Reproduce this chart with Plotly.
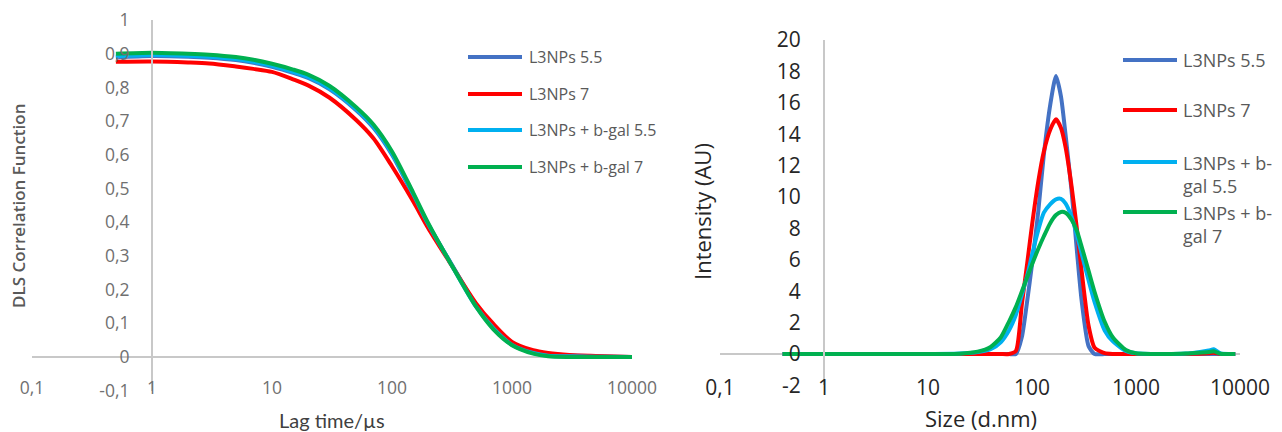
import plotly.graph_objects as go

# ---------------- data ----------------
series_names = ["L3NPs 5.5", "L3NPs 7", "L3NPs + b-gal 5.5", "L3NPs + b-gal 7"]
series_colors = ["#4472C4", "#FF0000", "#00B0F0", "#00B050"]

# Left chart: DLS correlation function vs lag time (µs)
lag_time_us = [0.5, 1, 2, 3, 5, 7, 10, 15, 20, 30, 50, 70, 100, 150, 200, 300,
               500, 700, 1000, 1500, 2000, 3000, 5000, 10000]
corr_l3nps_55 = [0.889, 0.893, 0.891, 0.888, 0.881, 0.873, 0.861, 0.843, 0.828, 0.795,
                 0.733, 0.680, 0.600, 0.480, 0.393, 0.287, 0.155, 0.092, 0.042, 0.018,
                 0.010, 0.005, 0.002, 0.000]
corr_l3nps_7 = [0.876, 0.877, 0.874, 0.871, 0.862, 0.855, 0.846, 0.824, 0.806, 0.770,
                0.704, 0.649, 0.566, 0.462, 0.383, 0.283, 0.160, 0.098, 0.045, 0.020,
                0.012, 0.006, 0.003, 0.000]
corr_bgal_55 = [0.892, 0.896, 0.894, 0.891, 0.884, 0.876, 0.864, 0.846, 0.831, 0.798,
                0.736, 0.684, 0.604, 0.484, 0.395, 0.285, 0.150, 0.085, 0.036, 0.012,
                0.004, 0.002, 0.001, 0.000]
corr_bgal_7 = [0.900, 0.903, 0.900, 0.897, 0.890, 0.882, 0.870, 0.853, 0.838, 0.805,
               0.742, 0.690, 0.610, 0.488, 0.398, 0.285, 0.150, 0.082, 0.035, 0.010,
               0.002, 0.000, 0.000, 0.000]

# Right chart: intensity size distribution vs size (d.nm)
size_nm = [0.4, 1, 10, 20, 30, 40, 50, 60, 70, 80, 90, 100, 115, 130, 150, 170, 190,
           210, 240, 270, 300, 350, 400, 500, 600, 800, 1000, 2000, 3000, 4000, 5000,
           5600, 6500, 8000, 9000]
int_l3nps_55 = [0, 0, 0, 0, 0, 0, 0, 0, 0.0, 1.1, 3.4, 5.7, 9.1, 12.7, 15.9, 17.7, 16.4,
                14.0, 10.4, 6.6, 3.4, 0.5, 0.0, 0, 0, 0, 0, 0, 0, 0, 0,
                0, 0, 0, 0]
int_l3nps_7 = [0, 0, 0, 0, 0, 0, 0, 0, 0.2, 3.2, 5.8, 8.2, 11.0, 12.9, 14.3, 14.95, 14.4,
               13.2, 10.7, 8.0, 5.3, 1.8, 0.4, 0.05, 0, 0, 0, 0, 0, 0.02, 0.05,
               0.08, 0, 0, 0]
int_bgal_55 = [0, 0, 0, 0.03, 0.12, 0.3, 0.75, 1.5, 2.5, 3.8, 5.0, 6.3, 7.9, 9.0, 9.55, 9.85,
               9.88, 9.6, 8.75, 7.6, 6.4, 4.7, 3.3, 1.5, 0.8, 0.2, 0.05, 0.0, 0.03, 0.12,
               0.22, 0.3, 0.03, 0, 0]
int_bgal_7 = [0, 0, 0, 0.02, 0.15, 0.45, 1.05, 2.05, 3.0, 4.0, 4.9, 5.7, 6.7, 7.5, 8.35,
              8.85, 9.05, 9.0, 8.55, 7.85, 6.85, 5.3, 3.95, 2.05, 1.05, 0.25, 0.05, 0.0,
              0.03, 0.08, 0.13, 0.17, 0.02, 0, 0]

# ticks
x_tick_vals = [0.1, 1, 10, 100, 1000, 10000]
x_tick_text = ["0,1", "1", "10", "100", "1000", "10000"]
left_y_tick_vals = [-0.1, 0, 0.1, 0.2, 0.3, 0.4, 0.5, 0.6, 0.7, 0.8, 0.9, 1]
left_y_tick_text = ["-0,1", "0", "0,1", "0,2", "0,3", "0,4", "0,5", "0,6", "0,7",
                    "0,8", "0,9", "1"]
right_y_tick_vals = [-2, 0, 2, 4, 6, 8, 10, 12, 14, 16, 18, 20]
right_y_tick_text = ["-2", "0", "2", "4", "6", "8", "10", "12", "14", "16", "18", "20"]

left_series = [corr_l3nps_55, corr_l3nps_7, corr_bgal_55, corr_bgal_7]
right_series = [int_l3nps_55, int_l3nps_7, int_bgal_55, int_bgal_7]

# ---------------- layout helpers ----------------
W, H = 1282, 432


def fx(px):
    return px / W


def fy(py):
    return 1 - py / H


AXIS_GRAY = "#C8C8C8"
FONT = "Open Sans"

fig = go.Figure()

for name, color, ys in zip(series_names, series_colors, left_series):
    fig.add_trace(go.Scatter(x=lag_time_us, y=ys, name=name, mode="lines",
                             line=dict(color=color, width=4, shape="spline", smoothing=0.8),
                             xaxis="x", yaxis="y", showlegend=False))

for name, color, ys in zip(series_names, series_colors, right_series):
    fig.add_trace(go.Scatter(x=size_nm, y=ys, name=name, mode="lines",
                             line=dict(color=color, width=4, shape="spline", smoothing=0.6),
                             xaxis="x2", yaxis="y2", showlegend=False))

left_tick_font = dict(family=FONT, size=17.5, color="#707070")
right_tick_font = dict(family=FONT, size=21, color="#262626")

fig.update_layout(
    width=W, height=H,
    margin=dict(l=0, r=0, t=0, b=0, pad=0, autoexpand=False),
    paper_bgcolor="white", plot_bgcolor="white",
    xaxis=dict(domain=[fx(32), fx(632)], type="log", range=[-1, 4],
               anchor="free", position=fy(375), showline=False, showgrid=False,
               zeroline=False, ticks="", tickvals=x_tick_vals, ticktext=x_tick_text,
               tickfont=left_tick_font, automargin=False),
    yaxis=dict(domain=[fy(390.7), fy(20)], range=[-0.1, 1], anchor="free",
               position=fx(152), side="left", showline=True, linecolor=AXIS_GRAY,
               linewidth=2, showgrid=False, zeroline=True, zerolinecolor=AXIS_GRAY,
               zerolinewidth=2, ticks="", tickvals=left_y_tick_vals,
               ticktext=left_y_tick_text, tickfont=left_tick_font,
               ticklabelstandoff=18, automargin=False),
    xaxis2=dict(domain=[fx(720), fx(1240)], type="log", range=[-1, 4],
                anchor="free", position=fy(373), showline=False, showgrid=False,
                zeroline=False, ticks="", tickvals=x_tick_vals, ticktext=x_tick_text,
                tickfont=right_tick_font, automargin=False),
    yaxis2=dict(domain=[fy(385.4), fy(40)], range=[-2, 20], anchor="free",
                position=fx(824), side="left", showline=True, linecolor=AXIS_GRAY,
                linewidth=2, showgrid=False, zeroline=True, zerolinecolor=AXIS_GRAY,
                zerolinewidth=2, ticks="", tickvals=right_y_tick_vals,
                ticktext=right_y_tick_text, tickfont=right_tick_font,
                ticklabelstandoff=18, automargin=False),
    showlegend=False,
)

annotations = []
shapes = []


def text_ann(text, px, py, font, angle=0, xanchor="center", align="center"):
    return dict(text=text, x=fx(px), y=fy(py), xref="paper", yref="paper",
                xanchor=xanchor, yanchor="middle", align=align, showarrow=False,
                textangle=angle, font=font)


# axis titles
annotations.append(text_ann("DLS Correlation Function", 18, 206,
                            dict(family=FONT, size=17, color="#595959", weight=600), -90))
annotations.append(text_ann("Lag time/µs", 332, 420,
                            dict(family="Lato", size=20, color="#404040")))
annotations.append(text_ann("Intensity (AU)", 702, 212,
                            dict(family=FONT, size=22, color="#262626"), -90))
annotations.append(text_ann("Size (d.nm)", 981, 418,
                            dict(family=FONT, size=22, color="#262626")))

# legends (drawn as keys + labels)
left_leg_y = [57, 94, 130, 167]
for name, color, py in zip(series_names, series_colors, left_leg_y):
    shapes.append(dict(type="line", xref="paper", yref="paper", x0=fx(468), x1=fx(522),
                       y0=fy(py), y1=fy(py), line=dict(color=color, width=4)))
    annotations.append(text_ann(name, 527, py,
                                dict(family=FONT, size=16, color="#595959"),
                                xanchor="left", align="left"))

right_leg_y = [60, 110, 162, 212]
for name, color, py in zip(series_names, series_colors, right_leg_y):
    shapes.append(dict(type="line", xref="paper", yref="paper", x0=fx(1123), x1=fx(1177),
                       y0=fy(py), y1=fy(py), line=dict(color=color, width=4)))
    label = name.replace("b-gal", "b-<br>gal")
    nlines = label.count("<br>") + 1
    annotations.append(text_ann(label, 1181, py + 12.5 * (nlines - 1),
                                dict(family=FONT, size=18, color="#595959"),
                                xanchor="left", align="left"))

fig.update_layout(annotations=annotations, shapes=shapes)

fig.write_html("out.html")
